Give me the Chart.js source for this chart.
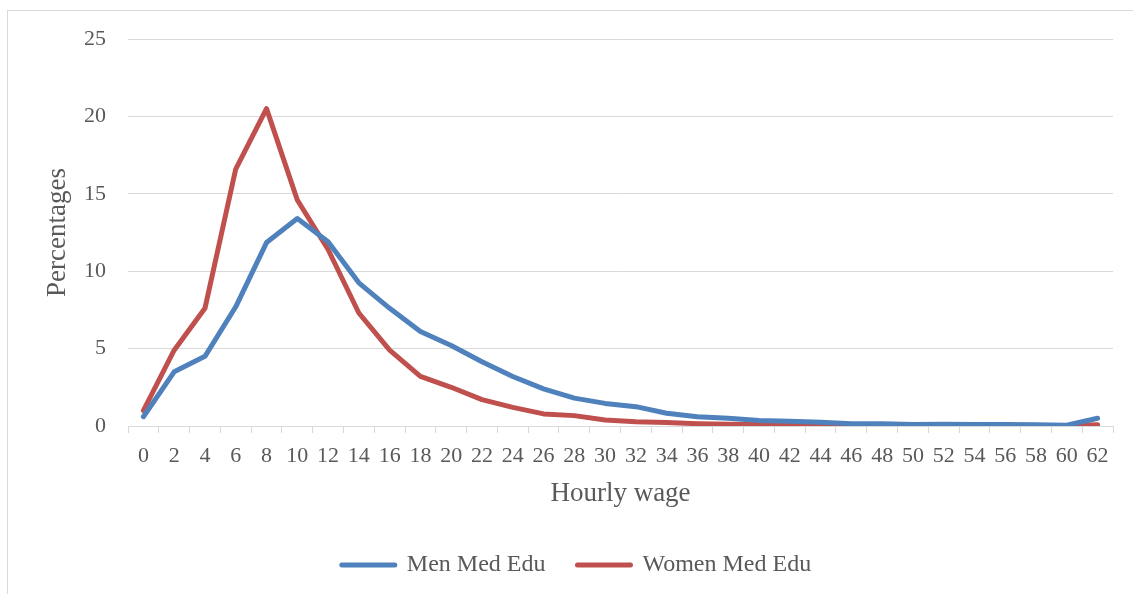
<!DOCTYPE html>
<html>
<head>
<meta charset="utf-8">
<script src="https://cdn.jsdelivr.net/npm/chart.js@4"></script>
<style>
  html, body { margin: 0; padding: 0; background: #fff; }
  #wrap { position: relative; width: 1133px; height: 594px; overflow: hidden; }
  #frame { position: absolute; left: 7px; top: 10px; width: 1140px; height: 600px;
           border-left: 1px solid #d9d9d9; border-top: 1px solid #d9d9d9; }
  #holder { position: absolute; left: 0; top: 0; width: 1133px; height: 594px; }
</style>
</head>
<body>
<div id="wrap">
  <div id="frame"></div>
  <div id="holder"><canvas id="chart"></canvas></div>
</div>
<script>
const wages = ['0','2','4','6','8','10','12','14','16','18','20','22','24','26','28','30',
  '32','34','36','38','40','42','44','46','48','50','52','54','56','58','60','62'];

const menMedEdu = [0.6, 3.5, 4.5, 7.7, 11.85, 13.4, 11.9, 9.25, 7.6, 6.1, 5.2, 4.15, 3.2, 2.4, 1.8, 1.46,
  1.25, 0.82, 0.6, 0.5, 0.35, 0.3, 0.25, 0.15, 0.15, 0.1, 0.12, 0.1, 0.1, 0.08, 0.05, 0.5];

const womenMedEdu = [1.0, 4.9, 7.6, 16.6, 20.5, 14.6, 11.4, 7.3, 4.9, 3.2, 2.5, 1.7, 1.2, 0.78, 0.67, 0.39,
  0.28, 0.22, 0.15, 0.12, 0.1, 0.07, 0.06, 0.05, 0.05, 0.04, 0.04, 0.04, 0.04, 0.04, 0.03, 0.08];

const yMin = 0;
const yMax = 25;
const yStep = 5;

const textColor = '#595959';
const gridColor = '#d9d9d9';
const fontFamily = '"Liberation Serif", "Times New Roman", serif';

// fixed legend height so the chart area lands where the original has it
const fixedLegend = {
  id: 'fixedLegend',
  afterInit(chart) {
    const fitValue = chart.legend.fit;
    chart.legend.fit = function fit() {
      fitValue.bind(chart.legend)();
      this.height = 73;
    };
  }
};

new Chart(document.getElementById('chart'), {
  type: 'line',
  data: {
    labels: wages,
    datasets: [
      {
        label: 'Men Med Edu',
        data: menMedEdu,
        borderColor: '#4f81bd',
        backgroundColor: '#4f81bd',
        borderWidth: 5,
        borderCapStyle: 'round',
        borderJoinStyle: 'round',
        pointRadius: 0,
        tension: 0
      },
      {
        label: 'Women Med Edu',
        data: womenMedEdu,
        borderColor: '#c0504d',
        backgroundColor: '#c0504d',
        borderWidth: 5,
        borderCapStyle: 'round',
        borderJoinStyle: 'round',
        pointRadius: 0,
        tension: 0
      }
    ]
  },
  options: {
    responsive: true,
    maintainAspectRatio: false,
    animation: false,
    layout: {
      padding: { left: 40, right: 20, top: 39, bottom: 0 }
    },
    plugins: {
      tooltip: { enabled: false },
      legend: {
        position: 'bottom',
        labels: {
          boxWidth: 53,
          boxHeight: 0,
          padding: 32,
          color: textColor,
          font: { family: fontFamily, size: 24 }
        }
      }
    },
    scales: {
      x: {
        offset: true,
        afterFit(scale) { scale.height = 95; },
        grid: {
          offset: true,
          drawOnChartArea: false,
          drawTicks: true,
          tickLength: 7,
          color: gridColor
        },
        border: { display: true, color: gridColor, width: 1 },
        ticks: {
          color: textColor,
          autoSkip: false,
          maxRotation: 0,
          padding: 10,
          font: { family: fontFamily, size: 22 }
        },
        title: {
          display: true,
          text: 'Hourly wage',
          color: textColor,
          padding: { top: 0, bottom: 11 },
          font: { family: fontFamily, size: 27 }
        }
      },
      y: {
        min: yMin,
        max: yMax,
        afterFit(scale) { scale.width = 88; },
        grid: {
          drawTicks: false,
          color: gridColor
        },
        border: { display: false },
        ticks: {
          stepSize: yStep,
          color: textColor,
          padding: 22,
          font: { family: fontFamily, size: 22 }
        },
        title: {
          display: true,
          text: 'Percentages',
          color: textColor,
          padding: { top: 2, bottom: 0 },
          font: { family: fontFamily, size: 27 }
        }
      }
    }
  },
  plugins: [fixedLegend]
});
</script>
</body>
</html>
